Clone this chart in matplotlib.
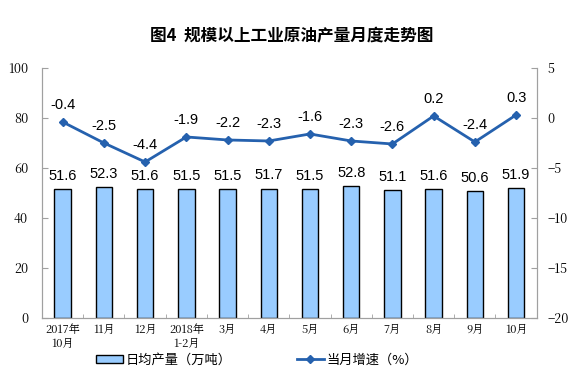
import matplotlib.pyplot as plt
import numpy as np

plt.rcParams['font.family'] = ['Noto Sans CJK SC', 'DejaVu Sans']

# === DATA ===
months = ["2017年\n10月", "11月", "12月", "2018年\n1-2月", "3月", "4月",
          "5月", "6月", "7月", "8月", "9月", "10月"]
daily_output = [51.6, 52.3, 51.6, 51.5, 51.5, 51.7, 51.5, 52.8, 51.1, 51.6, 50.6, 51.9]
growth = [-0.4, -2.5, -4.4, -1.9, -2.2, -2.3, -1.6, -2.3, -2.6, 0.2, -2.4, 0.3]

BAR_COLOR = '#99CCFF'
LINE_COLOR = '#2561AE'
AXIS_GRAY = '#A0A0A0'
SERIF = ['Noto Serif CJK SC', 'Liberation Serif', 'DejaVu Serif']

fig = plt.figure(figsize=(5.84, 3.86), dpi=100)
ax = fig.add_axes([0.072, 0.176, 0.847, 0.648])
ax2 = ax.twinx()

x = np.arange(len(months))
ax.bar(x, daily_output, width=0.4, color=BAR_COLOR, edgecolor='black', linewidth=1.0,
       label='日均产量（万吨）', zorder=2)
for xi, v in zip(x, daily_output):
    ax.text(xi, v + 2.5, f"{v:.1f}", ha='center', va='bottom', fontsize=10.5,
            family='Liberation Sans')

ax2.plot(x, growth, color=LINE_COLOR, linewidth=2, marker='D', markersize=4.5,
         label='当月增速（%）', zorder=3)
for xi, v in zip(x, growth):
    ax2.text(xi, v + 1.0, f"{v:.1f}", ha='center', va='bottom', fontsize=10.5,
             family='Liberation Sans')

ax.set_xlim(-0.5, len(months) - 0.5)
ax.set_ylim(0, 100)
ax.set_yticks(range(0, 101, 20))
ax2.set_ylim(-20, 5)
ax2.set_yticks(range(-20, 6, 5))

ax.set_xticks(x)
ax.set_xticklabels(months, fontsize=8, family=SERIF)
ax.set_xticks(np.arange(-0.5, len(months), 1), minor=True)
ax.tick_params(axis='x', which='major', length=0, pad=4)
ax.tick_params(axis='x', which='minor', length=3, color=AXIS_GRAY, direction='in')
ax.tick_params(axis='y', length=4, color=AXIS_GRAY, labelsize=9, direction='in', pad=10)
ax2.tick_params(axis='y', length=4, color=AXIS_GRAY, labelsize=9, direction='in', pad=8)
for t in ax.get_yticklabels() + ax2.get_yticklabels():
    t.set_family(SERIF)

for a in (ax, ax2):
    a.spines['top'].set_visible(False)
    for s in ('left', 'right', 'bottom'):
        a.spines[s].set_color(AXIS_GRAY)

fig.suptitle('图4  规模以上工业原油产量月度走势图', y=0.93, fontsize=12, fontweight='bold')

h1, l1 = ax.get_legend_handles_labels()
h2, l2 = ax2.get_legend_handles_labels()
fig.legend(h1 + h2, l1 + l2, loc='lower center', bbox_to_anchor=(0.44, 0.02), ncol=2,
           frameon=False, fontsize=9.5, columnspacing=5, handlelength=2.0,
           handleheight=0.6, handletextpad=0.2)

fig.savefig('out.png', dpi=100)
